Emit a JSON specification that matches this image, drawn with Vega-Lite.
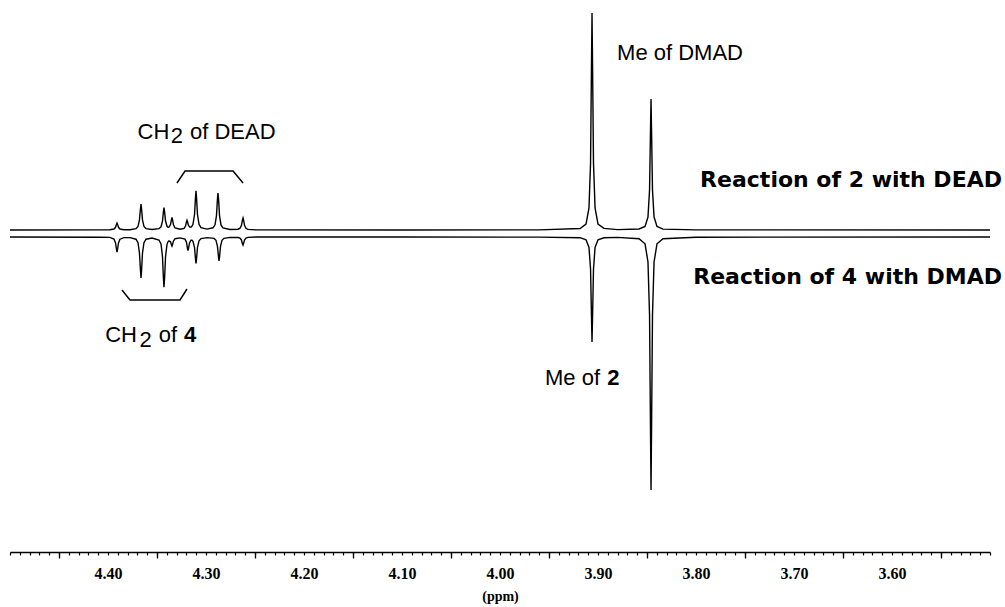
{
  "$schema": "https://vega.github.io/schema/vega-lite/v6.json",
  "width": 980,
  "height": 552,
  "autosize": {"type": "none"},
  "padding": {"left": 10, "top": 0, "right": 15, "bottom": 55},
  "background": "white",
  "config": {"view": {"stroke": null}},
  "datasets": {
    "spec": [
      {"ppm": 4.5, "v": 322, "s": "A"},
      {"ppm": 4.4082, "v": 322.1, "s": "A"},
      {"ppm": 4.398, "v": 322.2, "s": "A"},
      {"ppm": 4.3939, "v": 323.0, "s": "A"},
      {"ppm": 4.3923, "v": 324.7, "s": "A"},
      {"ppm": 4.3914, "v": 327.6, "s": "A"},
      {"ppm": 4.3908, "v": 329, "s": "A"},
      {"ppm": 4.3902, "v": 327.6, "s": "A"},
      {"ppm": 4.3893, "v": 324.7, "s": "A"},
      {"ppm": 4.3878, "v": 323.0, "s": "A"},
      {"ppm": 4.3837, "v": 322.3, "s": "A"},
      {"ppm": 4.3776, "v": 322.3, "s": "A"},
      {"ppm": 4.3714, "v": 323.4, "s": "A"},
      {"ppm": 4.3694, "v": 325.6, "s": "A"},
      {"ppm": 4.3679, "v": 332.1, "s": "A"},
      {"ppm": 4.3669, "v": 342.8, "s": "A"},
      {"ppm": 4.3663, "v": 348, "s": "A"},
      {"ppm": 4.3657, "v": 342.8, "s": "A"},
      {"ppm": 4.3648, "v": 332.1, "s": "A"},
      {"ppm": 4.3633, "v": 325.6, "s": "A"},
      {"ppm": 4.3612, "v": 323.4, "s": "A"},
      {"ppm": 4.3551, "v": 322.5, "s": "A"},
      {"ppm": 4.348, "v": 323.3, "s": "A"},
      {"ppm": 4.3459, "v": 325.2, "s": "A"},
      {"ppm": 4.3444, "v": 330.8, "s": "A"},
      {"ppm": 4.3435, "v": 339.8, "s": "A"},
      {"ppm": 4.3429, "v": 344.3, "s": "A"},
      {"ppm": 4.3422, "v": 339.9, "s": "A"},
      {"ppm": 4.3413, "v": 331.0, "s": "A"},
      {"ppm": 4.3398, "v": 325.7, "s": "A"},
      {"ppm": 4.3388, "v": 324.8, "s": "A"},
      {"ppm": 4.3378, "v": 324.9, "s": "A"},
      {"ppm": 4.3362, "v": 327.4, "s": "A"},
      {"ppm": 4.3353, "v": 332.2, "s": "A"},
      {"ppm": 4.3347, "v": 334.5, "s": "A"},
      {"ppm": 4.3341, "v": 332.0, "s": "A"},
      {"ppm": 4.3332, "v": 327.1, "s": "A"},
      {"ppm": 4.3316, "v": 324.0, "s": "A"},
      {"ppm": 4.3265, "v": 322.7, "s": "A"},
      {"ppm": 4.3224, "v": 323.6, "s": "A"},
      {"ppm": 4.3209, "v": 326.0, "s": "A"},
      {"ppm": 4.32, "v": 329.8, "s": "A"},
      {"ppm": 4.3194, "v": 331.7, "s": "A"},
      {"ppm": 4.3188, "v": 330.0, "s": "A"},
      {"ppm": 4.3179, "v": 326.5, "s": "A"},
      {"ppm": 4.3163, "v": 324.7, "s": "A"},
      {"ppm": 4.3148, "v": 325.2, "s": "A"},
      {"ppm": 4.3133, "v": 327.7, "s": "A"},
      {"ppm": 4.3117, "v": 337.5, "s": "A"},
      {"ppm": 4.3108, "v": 353.4, "s": "A"},
      {"ppm": 4.3102, "v": 361.3, "s": "A"},
      {"ppm": 4.3096, "v": 353.4, "s": "A"},
      {"ppm": 4.3087, "v": 337.5, "s": "A"},
      {"ppm": 4.3071, "v": 327.6, "s": "A"},
      {"ppm": 4.3051, "v": 324.3, "s": "A"},
      {"ppm": 4.299, "v": 322.9, "s": "A"},
      {"ppm": 4.2929, "v": 324.2, "s": "A"},
      {"ppm": 4.2908, "v": 327.2, "s": "A"},
      {"ppm": 4.2893, "v": 336.4, "s": "A"},
      {"ppm": 4.2884, "v": 351.6, "s": "A"},
      {"ppm": 4.2878, "v": 359, "s": "A"},
      {"ppm": 4.2871, "v": 351.6, "s": "A"},
      {"ppm": 4.2862, "v": 336.4, "s": "A"},
      {"ppm": 4.2847, "v": 327.1, "s": "A"},
      {"ppm": 4.2827, "v": 324.0, "s": "A"},
      {"ppm": 4.2755, "v": 322.5, "s": "A"},
      {"ppm": 4.2673, "v": 322.8, "s": "A"},
      {"ppm": 4.2653, "v": 323.8, "s": "A"},
      {"ppm": 4.2638, "v": 326.7, "s": "A"},
      {"ppm": 4.2629, "v": 331.6, "s": "A"},
      {"ppm": 4.2622, "v": 334, "s": "A"},
      {"ppm": 4.2616, "v": 331.6, "s": "A"},
      {"ppm": 4.2607, "v": 326.7, "s": "A"},
      {"ppm": 4.2592, "v": 323.7, "s": "A"},
      {"ppm": 4.2571, "v": 322.6, "s": "A"},
      {"ppm": 4.249, "v": 322.1, "s": "A"},
      {"ppm": 4.1, "v": 322, "s": "A"},
      {"ppm": 3.96, "v": 322.1, "s": "A"},
      {"ppm": 3.9183, "v": 323.5, "s": "A"},
      {"ppm": 3.9122, "v": 327.9, "s": "A"},
      {"ppm": 3.9092, "v": 344, "s": "A"},
      {"ppm": 3.9076, "v": 389, "s": "A"},
      {"ppm": 3.9067, "v": 482, "s": "A"},
      {"ppm": 3.9061, "v": 539, "s": "A"},
      {"ppm": 3.9055, "v": 482, "s": "A"},
      {"ppm": 3.9046, "v": 389, "s": "A"},
      {"ppm": 3.903, "v": 344, "s": "A"},
      {"ppm": 3.9, "v": 327.9, "s": "A"},
      {"ppm": 3.8939, "v": 323.6, "s": "A"},
      {"ppm": 3.88, "v": 322.4, "s": "A"},
      {"ppm": 3.8581, "v": 323.0, "s": "A"},
      {"ppm": 3.852, "v": 325.6, "s": "A"},
      {"ppm": 3.849, "v": 335, "s": "A"},
      {"ppm": 3.8474, "v": 362, "s": "A"},
      {"ppm": 3.8465, "v": 418, "s": "A"},
      {"ppm": 3.8459, "v": 453, "s": "A"},
      {"ppm": 3.8453, "v": 418, "s": "A"},
      {"ppm": 3.8444, "v": 362, "s": "A"},
      {"ppm": 3.8428, "v": 335, "s": "A"},
      {"ppm": 3.8398, "v": 325.5, "s": "A"},
      {"ppm": 3.8337, "v": 322.9, "s": "A"},
      {"ppm": 3.8, "v": 322.1, "s": "A"},
      {"ppm": 3.5, "v": 322, "s": "A"},

      {"ppm": 4.5, "v": 315, "s": "B"},
      {"ppm": 4.4082, "v": 314.8, "s": "B"},
      {"ppm": 4.398, "v": 314.6, "s": "B"},
      {"ppm": 4.3939, "v": 312.9, "s": "B"},
      {"ppm": 4.3923, "v": 309.1, "s": "B"},
      {"ppm": 4.3914, "v": 303, "s": "B"},
      {"ppm": 4.3908, "v": 299.9, "s": "B"},
      {"ppm": 4.3902, "v": 303, "s": "B"},
      {"ppm": 4.3893, "v": 309.1, "s": "B"},
      {"ppm": 4.3878, "v": 312.8, "s": "B"},
      {"ppm": 4.3837, "v": 314.4, "s": "B"},
      {"ppm": 4.3776, "v": 314.4, "s": "B"},
      {"ppm": 4.3714, "v": 312.8, "s": "B"},
      {"ppm": 4.3694, "v": 309.3, "s": "B"},
      {"ppm": 4.3679, "v": 299, "s": "B"},
      {"ppm": 4.3669, "v": 282.2, "s": "B"},
      {"ppm": 4.3663, "v": 274, "s": "B"},
      {"ppm": 4.3657, "v": 282.2, "s": "B"},
      {"ppm": 4.3648, "v": 299, "s": "B"},
      {"ppm": 4.3633, "v": 309.3, "s": "B"},
      {"ppm": 4.3612, "v": 312.8, "s": "B"},
      {"ppm": 4.3551, "v": 314.0, "s": "B"},
      {"ppm": 4.348, "v": 312.0, "s": "B"},
      {"ppm": 4.3459, "v": 308.0, "s": "B"},
      {"ppm": 4.3444, "v": 295.4, "s": "B"},
      {"ppm": 4.3435, "v": 274.8, "s": "B"},
      {"ppm": 4.3429, "v": 264.8, "s": "B"},
      {"ppm": 4.3422, "v": 274.8, "s": "B"},
      {"ppm": 4.3413, "v": 295.2, "s": "B"},
      {"ppm": 4.3398, "v": 307.7, "s": "B"},
      {"ppm": 4.3388, "v": 310.2, "s": "B"},
      {"ppm": 4.3378, "v": 311.2, "s": "B"},
      {"ppm": 4.3362, "v": 310.2, "s": "B"},
      {"ppm": 4.3353, "v": 307.3, "s": "B"},
      {"ppm": 4.3347, "v": 305.9, "s": "B"},
      {"ppm": 4.3341, "v": 307.6, "s": "B"},
      {"ppm": 4.3332, "v": 311.0, "s": "B"},
      {"ppm": 4.3316, "v": 313.3, "s": "B"},
      {"ppm": 4.3265, "v": 314.1, "s": "B"},
      {"ppm": 4.3214, "v": 312.9, "s": "B"},
      {"ppm": 4.3199, "v": 309.5, "s": "B"},
      {"ppm": 4.319, "v": 304.1, "s": "B"},
      {"ppm": 4.3184, "v": 301.4, "s": "B"},
      {"ppm": 4.3178, "v": 303.9, "s": "B"},
      {"ppm": 4.3168, "v": 309.1, "s": "B"},
      {"ppm": 4.3153, "v": 311.8, "s": "B"},
      {"ppm": 4.3143, "v": 311.8, "s": "B"},
      {"ppm": 4.3133, "v": 310.7, "s": "B"},
      {"ppm": 4.3117, "v": 304.5, "s": "B"},
      {"ppm": 4.3108, "v": 293.8, "s": "B"},
      {"ppm": 4.3102, "v": 288.7, "s": "B"},
      {"ppm": 4.3096, "v": 293.9, "s": "B"},
      {"ppm": 4.3087, "v": 304.7, "s": "B"},
      {"ppm": 4.3071, "v": 311.2, "s": "B"},
      {"ppm": 4.3051, "v": 313.4, "s": "B"},
      {"ppm": 4.299, "v": 314.4, "s": "B"},
      {"ppm": 4.2918, "v": 313.6, "s": "B"},
      {"ppm": 4.2898, "v": 311.7, "s": "B"},
      {"ppm": 4.2883, "v": 305.6, "s": "B"},
      {"ppm": 4.2873, "v": 295.8, "s": "B"},
      {"ppm": 4.2867, "v": 291, "s": "B"},
      {"ppm": 4.2861, "v": 295.8, "s": "B"},
      {"ppm": 4.2852, "v": 305.6, "s": "B"},
      {"ppm": 4.2837, "v": 311.7, "s": "B"},
      {"ppm": 4.2816, "v": 313.7, "s": "B"},
      {"ppm": 4.2755, "v": 314.6, "s": "B"},
      {"ppm": 4.2673, "v": 314.5, "s": "B"},
      {"ppm": 4.2653, "v": 313.9, "s": "B"},
      {"ppm": 4.2638, "v": 311.9, "s": "B"},
      {"ppm": 4.2629, "v": 308.6, "s": "B"},
      {"ppm": 4.2622, "v": 307, "s": "B"},
      {"ppm": 4.2616, "v": 308.6, "s": "B"},
      {"ppm": 4.2607, "v": 311.9, "s": "B"},
      {"ppm": 4.2592, "v": 313.9, "s": "B"},
      {"ppm": 4.2571, "v": 314.6, "s": "B"},
      {"ppm": 4.249, "v": 315, "s": "B"},
      {"ppm": 4.1, "v": 315, "s": "B"},
      {"ppm": 3.96, "v": 314.9, "s": "B"},
      {"ppm": 3.9183, "v": 314.3, "s": "B"},
      {"ppm": 3.9122, "v": 312.2, "s": "B"},
      {"ppm": 3.9092, "v": 304.5, "s": "B"},
      {"ppm": 3.9076, "v": 283, "s": "B"},
      {"ppm": 3.9067, "v": 238, "s": "B"},
      {"ppm": 3.9061, "v": 210, "s": "B"},
      {"ppm": 3.9055, "v": 238, "s": "B"},
      {"ppm": 3.9046, "v": 283, "s": "B"},
      {"ppm": 3.903, "v": 304.5, "s": "B"},
      {"ppm": 3.9, "v": 312.2, "s": "B"},
      {"ppm": 3.8939, "v": 314.2, "s": "B"},
      {"ppm": 3.88, "v": 314.6, "s": "B"},
      {"ppm": 3.8581, "v": 313.2, "s": "B"},
      {"ppm": 3.852, "v": 308.2, "s": "B"},
      {"ppm": 3.849, "v": 290, "s": "B"},
      {"ppm": 3.8474, "v": 237, "s": "B"},
      {"ppm": 3.8465, "v": 129, "s": "B"},
      {"ppm": 3.8459, "v": 62, "s": "B"},
      {"ppm": 3.8453, "v": 129, "s": "B"},
      {"ppm": 3.8444, "v": 237, "s": "B"},
      {"ppm": 3.8428, "v": 290, "s": "B"},
      {"ppm": 3.8398, "v": 308.2, "s": "B"},
      {"ppm": 3.8337, "v": 313.3, "s": "B"},
      {"ppm": 3.8, "v": 314.8, "s": "B"},
      {"ppm": 3.5, "v": 315, "s": "B"}
    ],
    "brackets": [
      {"ppm": 4.3296, "v": 369, "b": "DEAD"},
      {"ppm": 4.3214, "v": 381, "b": "DEAD"},
      {"ppm": 4.2724, "v": 381, "b": "DEAD"},
      {"ppm": 4.2622, "v": 369, "b": "DEAD"},
      {"ppm": 4.3857, "v": 262, "b": "four"},
      {"ppm": 4.3776, "v": 252, "b": "four"},
      {"ppm": 4.3265, "v": 252, "b": "four"},
      {"ppm": 4.3194, "v": 263, "b": "four"}
    ],
    "notes": [
      {"ppm": 4.3536, "v": 413, "t": "CH"},
      {"ppm": 4.3296, "v": 409, "t": "2"},
      {"ppm": 4.2727, "v": 413, "t": "of DEAD"},
      {"ppm": 4.3867, "v": 210, "t": "CH"},
      {"ppm": 4.3617, "v": 205, "t": "2"},
      {"ppm": 4.3388, "v": 210, "t": "of"},
      {"ppm": 3.8163, "v": 492, "t": "Me of DMAD"},
      {"ppm": 3.926, "v": 167, "t": "Me of"}
    ],
    "boldnotes": [
      {"ppm": 4.3163, "v": 210, "t": "4"},
      {"ppm": 3.8842, "v": 167, "t": "2"}
    ],
    "reactions": [
      {"ppm": 3.4878, "v": 365, "t": "Reaction of 2 with DEAD"},
      {"ppm": 3.4878, "v": 268, "t": "Reaction of 4 with DMAD"}
    ]
  },
  "resolve": {"axis": {"x": "independent"}},
  "layer": [
    {
      "data": {"name": "spec"},
      "mark": {"type": "line", "color": "black", "strokeWidth": 1.4, "clip": false},
      "encoding": {
        "x": {"field": "ppm", "type": "quantitative",
              "scale": {"domain": [4.5, 3.5], "nice": false, "zero": false},
              "axis": {"orient": "bottom", "tickCount": 100, "tickSize": 3, "tickWidth": 1.2, "tickColor": "black",
                       "domainColor": "black", "domainWidth": 1.5, "labels": false, "grid": false, "title": null}},
        "y": {"field": "v", "type": "quantitative", "scale": {"domain": [0, 552], "nice": false, "zero": false}, "axis": null},
        "detail": {"field": "s", "type": "nominal"}
      }
    },
    {
      "data": {"name": "brackets"},
      "mark": {"type": "line", "color": "black", "strokeWidth": 1.5},
      "encoding": {
        "x": {"field": "ppm", "type": "quantitative",
              "scale": {"domain": [4.5, 3.5], "nice": false, "zero": false},
              "axis": {"orient": "bottom", "values": [4.45, 4.35, 4.25, 4.15, 4.05, 3.95, 3.85, 3.75, 3.65, 3.55],
                       "tickSize": 6, "tickWidth": 1.3, "tickColor": "black", "domain": false,
                       "labels": false, "grid": false, "title": null}},
        "y": {"field": "v", "type": "quantitative", "scale": {"domain": [0, 552], "nice": false, "zero": false}, "axis": null},
        "detail": {"field": "b", "type": "nominal"}
      }
    },
    {
      "data": {"name": "notes"},
      "mark": {"type": "text", "font": "Liberation Sans", "fontSize": 22, "color": "black", "align": "center", "baseline": "alphabetic"},
      "encoding": {
        "x": {"field": "ppm", "type": "quantitative",
              "scale": {"domain": [4.5, 3.5], "nice": false, "zero": false},
              "axis": {"orient": "bottom", "values": [4.4, 4.3, 4.2, 4.1, 4.0, 3.9, 3.8, 3.7, 3.6], "format": ".2f",
                       "ticks": false, "domain": false, "grid": false, "labelPadding": 13,
                       "labelFont": "Liberation Serif", "labelFontWeight": "bold", "labelFontSize": 16, "labelColor": "black",
                       "title": "(ppm)", "titleFont": "Liberation Serif", "titleFontWeight": "bold", "titleFontSize": 14,
                       "titleColor": "black", "titlePadding": 8}},
        "y": {"field": "v", "type": "quantitative", "scale": {"domain": [0, 552], "nice": false, "zero": false}, "axis": null},
        "text": {"field": "t", "type": "nominal"}
      }
    },
    {
      "data": {"name": "boldnotes"},
      "mark": {"type": "text", "font": "Liberation Sans", "fontSize": 22, "fontWeight": "bold", "color": "black", "align": "center", "baseline": "alphabetic"},
      "encoding": {
        "x": {"field": "ppm", "type": "quantitative", "scale": {"domain": [4.5, 3.5], "nice": false, "zero": false}, "axis": null},
        "y": {"field": "v", "type": "quantitative", "scale": {"domain": [0, 552], "nice": false, "zero": false}, "axis": null},
        "text": {"field": "t", "type": "nominal"}
      }
    },
    {
      "data": {"name": "reactions"},
      "mark": {"type": "text", "font": "DejaVu Sans", "fontSize": 22, "fontWeight": "bold", "color": "black", "align": "right", "baseline": "alphabetic"},
      "encoding": {
        "x": {"field": "ppm", "type": "quantitative", "scale": {"domain": [4.5, 3.5], "nice": false, "zero": false}, "axis": null},
        "y": {"field": "v", "type": "quantitative", "scale": {"domain": [0, 552], "nice": false, "zero": false}, "axis": null},
        "text": {"field": "t", "type": "nominal"}
      }
    }
  ]
}
